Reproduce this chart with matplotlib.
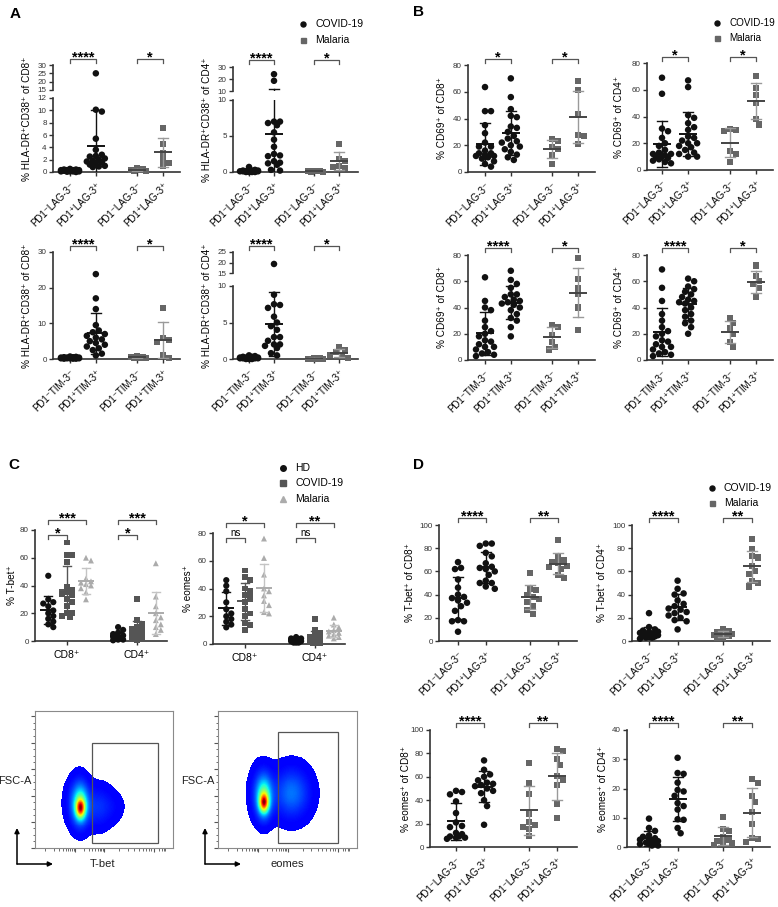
import numpy as np
import matplotlib
matplotlib.use('Agg')
import matplotlib.pyplot as plt
from matplotlib.lines import Line2D
from matplotlib.patches import Rectangle, FancyArrowPatch

# ---------------- data ----------------
# A: % HLA-DR+CD38+
hla_cd8_lag_cov_neg = [0.1, 0.2, 0.3, 0.0, 0.4, 0.2, 0.1, 0.3, 0.5, 0.2, 0.1, 0.05, 0.3, 0.2, 0.4, 0.1, 0.2, 0.3]
hla_cd8_lag_cov_pos = [25, 10.1, 9.8, 5.4, 3.6, 2.8, 2.5, 2.2, 2.0, 1.8, 1.6, 1.5, 1.2, 1.0, 0.9, 2.6, 1.7, 0.8]
hla_cd8_lag_mal_neg = [0.2, 0.4, 0.6, 0.3, 0.5, 0.1]
hla_cd8_lag_mal_pos = [7.2, 4.5, 3.0, 2.0, 1.0, 1.4]
hla_cd4_lag_cov_neg = [0.1, 0.0, 0.2, 0.1, 0.7, 0.1, 0.0, 0.2, 0.1, 0.3, 0.0, 0.1, 0.2, 0.1, 0.0, 0.1, 0.2, 0.1]
hla_cd4_lag_cov_pos = [24, 18.5, 7, 7, 6.8, 6.5, 5.5, 4.5, 3.5, 2.5, 2.3, 2.2, 1.5, 1.3, 1.2, 0.3, 0.2, 1.0]
hla_cd4_lag_mal_neg = [0.1, 0.0, 0.2, 0.1, 0.0, 0.1]
hla_cd4_lag_mal_pos = [3.9, 1.8, 1.5, 0.8, 0.7, 0.5]
hla_cd8_tim_cov_neg = [0.2, 0.4, 0.6, 0.3, 0.1, 0.5, 0.2, 0.3, 0.4, 0.1, 0.2, 0.7, 0.3, 0.2, 0.5, 0.1, 0.4, 0.3]
hla_cd8_tim_cov_pos = [23.8, 17, 14, 9.5, 8, 7.5, 7, 6.5, 6, 5.5, 5, 4.5, 4, 3.5, 3, 2.5, 1.5, 1.0]
hla_cd8_tim_mal_neg = [0.3, 0.5, 0.7, 0.4, 0.6, 0.2]
hla_cd8_tim_mal_pos = [14.3, 5.8, 5.3, 4.8, 1.2, 0.3]
hla_cd4_tim_cov_neg = [0.1, 0.3, 0.5, 0.2, 0.0, 0.1, 0.2, 0.4, 0.1, 0.0, 0.2, 0.1, 0.3, 0.1, 0.0, 0.2, 0.1, 0.1]
hla_cd4_tim_cov_pos = [19.3, 8.8, 7.5, 7.4, 7.0, 5.8, 4.5, 5.0, 4.0, 3.0, 3.0, 2.5, 2.0, 2.0, 1.8, 1.5, 0.8, 0.5]
hla_cd4_tim_mal_neg = [0.0, 0.1, 0.05, 0.1, 0.0, 0.05]
hla_cd4_tim_mal_pos = [1.7, 1.2, 0.9, 0.6, 0.4, 0.2]

# B: % CD69+
cd69_cd8_lag_cov_neg = [63.5, 45.5, 45.5, 35, 29, 22, 19, 16, 14, 14, 13, 12, 12, 11, 10, 8, 6, 4, 19]
cd69_cd8_lag_cov_pos = [70, 56, 47, 42, 41, 34, 33, 30, 27, 25, 23, 22, 20, 19, 17, 15, 13, 11, 9]
cd69_cd8_lag_mal_neg = [25, 23, 19, 17, 13, 6]
cd69_cd8_lag_mal_pos = [68, 61, 43, 28, 27, 21]
cd69_cd4_lag_cov_neg = [69, 57, 31, 29, 24, 20, 18, 15, 13, 12, 12, 11, 10, 10, 9, 8, 7, 6, 5]
cd69_cd4_lag_cov_pos = [67, 62, 41, 39, 35, 32, 30, 25, 24, 22, 20, 20, 18, 17, 15, 13, 12, 10, 10]
cd69_cd4_lag_mal_neg = [31, 30, 29, 14, 12, 6]
cd69_cd4_lag_mal_pos = [70, 61, 56, 50, 38, 34]
cd69_cd8_tim_cov_neg = [63, 45, 40, 38, 30, 25, 22, 20, 18, 15, 14, 12, 10, 10, 8, 6, 5, 4, 3]
cd69_cd8_tim_cov_pos = [68, 61, 58, 55, 50, 48, 46, 45, 44, 43, 42, 40, 38, 35, 32, 30, 25, 18, 50]
cd69_cd8_tim_mal_neg = [27, 25, 19, 14, 10, 8]
cd69_cd8_tim_mal_pos = [78, 62, 55, 50, 40, 23]
cd69_cd4_tim_cov_neg = [69, 55, 45, 35, 30, 25, 22, 20, 18, 15, 14, 12, 10, 10, 8, 6, 5, 4, 3]
cd69_cd4_tim_cov_pos = [62, 60, 56, 54, 52, 50, 48, 46, 45, 43, 40, 38, 35, 33, 30, 28, 25, 20, 44]
cd69_cd4_tim_mal_neg = [32, 28, 24, 20, 14, 10]
cd69_cd4_tim_mal_pos = [72, 64, 60, 58, 55, 48]

# C: % T-bet+ / % eomes+ in HD, COVID-19, Malaria
tbet_cd8_hd = [47, 30, 28, 27, 25, 22, 20, 18, 16, 14, 12, 10]
tbet_cd8_cov = [71, 62, 62, 57, 39, 37, 35, 34, 33, 30, 28, 25, 20, 17, 20, 18]
tbet_cd8_mal = [60, 58, 45, 43, 42, 41, 40, 38, 35, 30]
tbet_cd4_hd = [10, 8, 6, 5, 4, 3, 3, 2, 2, 1, 1, 0.5]
tbet_cd4_cov = [30, 15, 12, 10, 9, 8, 7, 6, 5, 5, 4, 3, 3, 2, 2, 1]
tbet_cd4_mal = [56, 32, 25, 20, 17, 15, 12, 10, 8, 5]
eomes_cd8_hd = [46, 42, 38, 30, 25, 22, 20, 18, 16, 14, 12]
eomes_cd8_cov = [53, 48, 46, 40, 38, 35, 34, 30, 25, 22, 20, 15, 14, 10]
eomes_cd8_mal = [76, 62, 50, 40, 38, 35, 31, 28, 23, 22]
eomes_cd4_hd = [5, 4, 4, 3, 3, 2, 2, 2, 1, 1, 1]
eomes_cd4_cov = [18, 10, 8, 6, 5, 5, 4, 3, 3, 2, 2, 1, 1, 1]
eomes_cd4_mal = [19, 14, 12, 10, 9, 8, 7, 6, 5, 4]

# D: % T-bet+ / % eomes+ by LAG-3
tbet_lag_cd8_cov_neg = [68, 63, 62, 53, 46, 40, 38, 37, 35, 33, 30, 26, 18, 17, 17, 8]
tbet_lag_cd8_cov_pos = [84, 84, 82, 76, 73, 67, 64, 63, 62, 60, 57, 52, 50, 50, 47, 45]
tbet_lag_cd8_mal_neg = [59, 45, 44, 40, 38, 36, 34, 30, 27, 23]
tbet_lag_cd8_mal_pos = [87, 72, 70, 68, 67, 65, 64, 62, 57, 54]
tbet_lag_cd4_cov_neg = [24, 12, 10, 9, 8, 8, 7, 6, 6, 5, 5, 4, 4, 3, 3, 2]
tbet_lag_cd4_cov_pos = [52, 45, 41, 40, 35, 32, 30, 28, 27, 25, 24, 22, 20, 18, 17, 10]
tbet_lag_cd4_mal_neg = [10, 9, 8, 7, 6, 5, 5, 4, 3, 3]
tbet_lag_cd4_mal_pos = [88, 79, 73, 72, 65, 60, 58, 52, 50, 47]
eomes_lag_cd8_cov_neg = [48, 47, 45, 39, 29, 21, 18, 17, 12, 11, 9, 9, 8, 8, 7]
eomes_lag_cd8_cov_pos = [74, 66, 62, 60, 57, 55, 54, 53, 52, 50, 48, 46, 40, 35, 19]
eomes_lag_cd8_mal_neg = [72, 55, 45, 28, 21, 19, 17, 15, 9]
eomes_lag_cd8_mal_pos = [84, 82, 75, 70, 61, 53, 37, 25, 57]
eomes_lag_cd4_cov_neg = [9.7, 6.5, 5.5, 4, 3.5, 3, 2.5, 2.5, 2, 2, 1.5, 1.5, 1, 1, 0.5, 0.5]
eomes_lag_cd4_cov_pos = [30.5, 25.3, 25, 22, 19.5, 19, 17.5, 15, 14, 12.8, 9.5, 9.3, 6.5, 4.7]
eomes_lag_cd4_mal_neg = [10.2, 6.2, 5.5, 3.5, 2.3, 2.0, 1.5, 1.2, 0.8]
eomes_lag_cd4_mal_pos = [23.3, 22, 17.5, 15.5, 12, 8, 3, 2.7, 1.8]

LAG_LABELS = ['PD1⁻LAG-3⁻', 'PD1⁺LAG-3⁺', 'PD1⁻LAG-3⁻', 'PD1⁺LAG-3⁺']
TIM_LABELS = ['PD1⁻TIM-3⁻', 'PD1⁺TIM-3⁺', 'PD1⁻TIM-3⁻', 'PD1⁺TIM-3⁺']
CAT_POS = [0, 1, 2.6, 3.6]

# flow cytometry illustration: density components (x, y, sx, sy, weight) and gates
tbet_pops = [(0.33, 0.29, 0.022, 0.045, 0.8), (0.33, 0.32, 0.035, 0.09, 0.45),
             (0.31, 0.33, 0.05, 0.10, 0.15), (0.45, 0.30, 0.07, 0.09, 0.10),
             (0.56, 0.30, 0.06, 0.07, 0.02)]
eomes_pops = [(0.33, 0.33, 0.022, 0.045, 0.8), (0.33, 0.37, 0.035, 0.09, 0.45),
              (0.32, 0.40, 0.05, 0.11, 0.15), (0.53, 0.40, 0.08, 0.11, 0.2)]
tbet_gate = (0.41, 0.04, 0.89, 0.77)
eomes_gate = (0.43, 0.04, 0.86, 0.85)

# ---------------- style ----------------
plt.rcParams['font.family'] = ['Liberation Sans', 'DejaVu Sans']
COV_C = '#111111'
MAL_C = '#666666'
MAL_ERR = '#9a9a9a'
C_HD = '#111111'
C_COV = '#555555'
C_MAL = '#ababab'
SPINE = '#333333'

W, H = 778, 907
fig = plt.figure(figsize=(W / 100, H / 100), dpi=100)


def fx(x):
    return x / W


def fy(y):
    return 1 - y / H


def box(x0, y0, x1, y1):
    return [x0 / W, 1 - y1 / H, (x1 - x0) / W, (y1 - y0) / H]


def style(ax, bottom=True):
    for s in ['top', 'right']:
        ax.spines[s].set_visible(False)
    ax.spines['left'].set_color(SPINE)
    ax.spines['left'].set_linewidth(1.2)
    if bottom:
        ax.spines['bottom'].set_color(SPINE)
        ax.spines['bottom'].set_linewidth(1.2)
    else:
        ax.spines['bottom'].set_visible(False)
        ax.tick_params(axis='x', bottom=False, labelbottom=False)
    ax.tick_params(axis='y', labelsize=5.8, colors=SPINE, length=3, width=1, pad=1.5)
    ax.tick_params(axis='x', length=3, width=1, colors=SPINE, labelcolor='black')
    ax.patch.set_alpha(0)


def make_panel(x0, x1, xlim, segments, labels=None, ylabel=None, ylabel_x=None):
    axes = []
    for i, (ylim, yticks, top, bot) in enumerate(segments):
        ax = fig.add_axes(box(x0, top, x1, bot))
        ax.set_xlim(*xlim)
        ax.set_ylim(*ylim)
        ax.set_yticks(yticks)
        last = i == len(segments) - 1
        style(ax, bottom=last)
        if last and labels is not None:
            ax.set_xticks(CAT_POS)
            ax.set_xticklabels(labels, rotation=45, ha='right', va='top',
                               rotation_mode='anchor', fontsize=7)
        axes.append(ax)
    if ylabel:
        yc = (segments[0][2] + segments[-1][3]) / 2
        fig.text(fx(ylabel_x), fy(yc), ylabel, rotation=90, ha='center',
                 va='center', fontsize=7.2)
    return axes


def xlim_from(x0, x1, c0, c3):
    u = (c3 - c0) / CAT_POS[-1]
    return (-(c0 - x0) / u, (x1 - c0) / u)


def swarm_x(ax, xc, vals, d, maxw):
    pts = ax.transData.transform(np.column_stack([np.full(len(vals), xc), vals]))
    ypx = pts[:, 1]
    x0 = pts[0, 0]
    cands = [0.0]
    k = 1
    while k * d / 2 <= maxw + 1e-6:
        cands += [k * d / 2, -k * d / 2]
        k += 1
    offs = np.zeros(len(vals))
    placed = []
    for i in np.argsort(-ypx, kind='stable'):
        best, best_score = 0.0, -1.0
        for c in cands:
            dist = min((np.hypot(c - px, ypx[i] - py) for px, py in placed), default=np.inf)
            if dist >= d:
                best = c
                break
            if dist > best_score:
                best, best_score = c, dist
        offs[i] = best
        placed.append((best, ypx[i]))
    return ax.transData.inverted().transform(np.column_stack([x0 + offs, ypx]))[:, 0]


def plot_group(axes, xc, vals, marker, color, mean_c, err_c, s=22, d=6.0,
               maxw=11, hw_px=9, cap_px=5):
    vals = np.asarray(vals, float)
    ref = axes[-1]
    px0 = ref.transData.transform((xc, 0))[0]
    inv = ref.transData.inverted()
    hw = inv.transform((px0 + hw_px, 0))[0] - xc
    cap = inv.transform((px0 + cap_px, 0))[0] - xc
    for ax in axes:
        lo, hi = ax.get_ylim()
        sel = vals[(vals >= lo) & (vals <= hi)]
        if len(sel) == 0:
            continue
        xs = swarm_x(ax, xc, sel, d, maxw)
        ax.scatter(xs, sel, s=s, marker=marker, color=color, edgecolors='none',
                   zorder=3, clip_on=False)
    m = vals.mean()
    sd = vals.std(ddof=1)
    for ax in axes:
        ax.plot([xc, xc], [m - sd, m + sd], color=err_c, lw=1.0, zorder=4)
        for v in (m - sd, m + sd):
            ax.plot([xc - cap, xc + cap], [v, v], color=err_c, lw=1.0, zorder=4)
        ax.plot([xc - hw, xc + hw], [m, m], color=mean_c, lw=1.4, zorder=5,
                solid_capstyle='butt')


def bracket(ax, x0, x1, dy_px, text, stars=True, tick_px=3.5):
    h = ax.bbox.height
    y = 1 + dy_px / h
    t = ax.get_xaxis_transform()
    ax.plot([x0, x0, x1, x1], [y - tick_px / h, y, y, y - tick_px / h],
            transform=t, color='#555555', lw=0.9, clip_on=False)
    if stars:
        ax.text((x0 + x1) / 2, y - 2.5 / h, text, transform=t, ha='center',
                va='baseline', fontsize=10.5, fontweight='bold', clip_on=False)
    else:
        ax.text((x0 + x1) / 2, y + 2.5 / h, text, transform=t, ha='center',
                va='baseline', fontsize=7, clip_on=False)


def lag_panel(x0, x1, c0, c3, segments, labels, ylabel, ylabel_x, groups, sigs, dy):
    axes = make_panel(x0, x1, xlim_from(x0, x1, c0, c3), segments, labels, ylabel, ylabel_x)
    for pos, vals in zip(CAT_POS[:2], groups[:2]):
        plot_group(axes, pos, vals, 'o', COV_C, COV_C, COV_C)
    for pos, vals in zip(CAT_POS[2:], groups[2:]):
        plot_group(axes, pos, vals, 's', MAL_C, '#444444', MAL_ERR, s=19)
    bracket(axes[0], CAT_POS[0], CAT_POS[1], dy, sigs[0])
    bracket(axes[0], CAT_POS[2], CAT_POS[3], dy, sigs[1])
    return axes


def legend(xm, xt, ys, markers, colors, labels, ms=3.6, fs=7.5):
    for y, mk, c, lab in zip(ys, markers, colors, labels):
        fig.add_artist(Line2D([fx(xm)], [fy(y)], marker=mk, color=c, ms=ms, ls='none',
                              transform=fig.transFigure))
        fig.text(fx(xt), fy(y), lab, va='center', ha='left', fontsize=fs)


# ---------------- panel A ----------------
lag_panel(53, 180, 70, 163,
          [((15, 30), [15, 20, 25, 30], 65, 90), ((0, 12), [0, 2, 4, 6, 8, 10, 12], 98, 172)],
          LAG_LABELS, '% HLA-DR⁺CD38⁺ of CD8⁺', 27,
          [hla_cd8_lag_cov_neg, hla_cd8_lag_cov_pos, hla_cd8_lag_mal_neg, hla_cd8_lag_mal_pos],
          ['****', '*'], 6)
lag_panel(233, 358, 249, 339,
          [((10, 30), [10, 20, 30], 67, 91), ((0, 10), [0, 5, 10], 100, 172)],
          LAG_LABELS, '% HLA-DR⁺CD38⁺ of CD4⁺', 207,
          [hla_cd4_lag_cov_neg, hla_cd4_lag_cov_pos, hla_cd4_lag_mal_neg, hla_cd4_lag_mal_pos],
          ['****', '*'], 7)
lag_panel(53, 180, 70, 163,
          [((0, 30), [0, 10, 20, 30], 252, 359)],
          TIM_LABELS, '% HLA-DR⁺CD38⁺ of CD8⁺', 27,
          [hla_cd8_tim_cov_neg, hla_cd8_tim_cov_pos, hla_cd8_tim_mal_neg, hla_cd8_tim_mal_pos],
          ['****', '*'], 6)
lag_panel(233, 358, 249, 339,
          [((15, 25), [15, 20, 25], 252, 273), ((0, 10), [0, 5, 10], 286, 359)],
          TIM_LABELS, '% HLA-DR⁺CD38⁺ of CD4⁺', 207,
          [hla_cd4_tim_cov_neg, hla_cd4_tim_cov_pos, hla_cd4_tim_mal_neg, hla_cd4_tim_mal_pos],
          ['****', '*'], 6)
legend(303, 315, [24, 40], ['o', 's'], [COV_C, MAL_C], ['COVID-19', 'Malaria'])

# ---------------- panel B ----------------
lag_panel(468, 595, 485, 578, [((0, 80), [0, 20, 40, 60, 80], 65, 172)],
          LAG_LABELS, '% CD69⁺ of CD8⁺', 442,
          [cd69_cd8_lag_cov_neg, cd69_cd8_lag_cov_pos, cd69_cd8_lag_mal_neg, cd69_cd8_lag_mal_pos],
          ['*', '*'], 6)
lag_panel(647, 773, 662, 756, [((0, 80), [0, 20, 40, 60, 80], 63, 170)],
          LAG_LABELS, '% CD69⁺ of CD4⁺', 619,
          [cd69_cd4_lag_cov_neg, cd69_cd4_lag_cov_pos, cd69_cd4_lag_mal_neg, cd69_cd4_lag_mal_pos],
          ['*', '*'], 6)
lag_panel(468, 595, 485, 578, [((0, 80), [0, 20, 40, 60, 80], 255, 360)],
          TIM_LABELS, '% CD69⁺ of CD8⁺', 442,
          [cd69_cd8_tim_cov_neg, cd69_cd8_tim_cov_pos, cd69_cd8_tim_mal_neg, cd69_cd8_tim_mal_pos],
          ['****', '*'], 7)
lag_panel(647, 773, 662, 756, [((0, 80), [0, 20, 40, 60, 80], 255, 360)],
          TIM_LABELS, '% CD69⁺ of CD4⁺', 619,
          [cd69_cd4_tim_cov_neg, cd69_cd4_tim_cov_pos, cd69_cd4_tim_mal_neg, cd69_cd4_tim_mal_pos],
          ['****', '*'], 7)
legend(717, 729, [23, 38], ['o', 's'], [COV_C, MAL_C], ['COVID-19', 'Malaria'], fs=7.1)

# ---------------- panel C ----------------
C_OFF = [-0.27, 0, 0.27]


def c_panel(x0, x1, top, bot, ylabel, ylabel_x, cd8, cd4, sigs):
    ax = fig.add_axes(box(x0, top, x1, bot))
    ax.set_xlim(-0.46, 1.43)
    ax.set_ylim(0, 80)
    ax.set_yticks([0, 20, 40, 60, 80])
    style(ax)
    ax.set_xticks([0, 1])
    ax.set_xticklabels(['CD8⁺', 'CD4⁺'], fontsize=7.5)
    spec = [('o', C_HD, C_HD, 20), ('s', C_COV, C_COV, 18), ('^', C_MAL, '#c4c4c4', 18)]
    for base, groups in zip([0, 1], [cd8, cd4]):
        for off, vals, (mk, c, ec, s) in zip(C_OFF, groups, spec):
            plot_group([ax], base + off, vals, mk, c, c, ec, s=s, d=5.0, maxw=7,
                       hw_px=8, cap_px=4)
    fig.text(fx(ylabel_x), fy((top + bot) / 2), ylabel, rotation=90, ha='center',
             va='center', fontsize=7.2)
    for base, (outer, inner) in zip([0, 1], sigs):
        bracket(ax, base + C_OFF[0], base + C_OFF[2], 10, outer, stars=outer != 'ns')
        bracket(ax, base + C_OFF[0], base + C_OFF[1], -5, inner, stars=inner != 'ns')
    return ax


c_panel(35, 167, 530, 641, '% T-bet⁺', 12,
        [tbet_cd8_hd, tbet_cd8_cov, tbet_cd8_mal], [tbet_cd4_hd, tbet_cd4_cov, tbet_cd4_mal],
        [('***', '*'), ('***', '*')])
c_panel(213, 345, 533, 644, '% eomes⁺', 188,
        [eomes_cd8_hd, eomes_cd8_cov, eomes_cd8_mal], [eomes_cd4_hd, eomes_cd4_cov, eomes_cd4_mal],
        [('*', 'ns'), ('**', 'ns')])
legend(283, 295, [468, 483, 499], ['o', 's', '^'], [C_HD, C_COV, C_MAL],
       ['HD', 'COVID-19', 'Malaria'], ms=4)


# flow cytometry dot plots
def flow(x0, y0, x1, y1, pops, gate, xlabel, xlab_x, fsc_x, arrow_x, arrow_len):
    ax = fig.add_axes(box(x0, y0, x1, y1))
    g = np.linspace(0, 1, 280)
    X, Y = np.meshgrid(g, g)
    dens = np.zeros_like(X)
    for cx, cy, sx, sy, w in pops:
        dens += w * np.exp(-((X - cx) ** 2 / (2 * sx ** 2) + (Y - cy) ** 2 / (2 * sy ** 2)))
    dens /= dens.max()
    z = np.ma.masked_less(dens, 0.006)
    cmap = plt.get_cmap('jet').copy()
    cmap.set_bad('white')
    ax.imshow(z, origin='lower', extent=[0, 1, 0, 1], cmap=cmap, vmin=-0.12, vmax=1,
              interpolation='nearest', aspect='auto')
    gx0, gy0, gx1, gy1 = gate
    ax.add_patch(Rectangle((gx0, gy0), gx1 - gx0, gy1 - gy0, fill=False,
                           ec='#555555', lw=0.9))
    ax.set_xlim(0, 1)
    ax.set_ylim(0, 1)
    for sp in ax.spines.values():
        sp.set_color('#8a8a8a')
        sp.set_linewidth(0.8)
    ymaj = [0, 0.19, 0.38, 0.58, 0.77, 0.96]
    ax.set_yticks(ymaj)
    ax.set_yticks([a + (b - a) * f for a, b in zip(ymaj[:-1], ymaj[1:])
                   for f in (0.25, 0.5, 0.75)], minor=True)
    xmin = [0.07 + np.log10(k) * 0.22 for k in range(1, 10)]
    xmin += [0.29 + np.log10(k) * 0.21 for k in range(2, 10)]
    xmin += [0.50 + np.log10(k) * 0.36 for k in range(2, 10)]
    xmin += [0.86 + np.log10(k) * 0.12 for k in range(2, 6)]
    ax.set_xticks([0.29, 0.50, 0.86])
    ax.set_xticks(xmin, minor=True)
    ax.tick_params(which='major', length=3, width=0.8, colors='#555555',
                   labelleft=False, labelbottom=False)
    ax.tick_params(which='minor', length=1.8, width=0.6, colors='#555555')
    fig.text(fx(fsc_x), fy((y0 + y1) / 2 + 2), 'FSC-A', ha='center', va='center',
             fontsize=8, color='#222222')
    fig.text(fx(xlab_x), fy(864), xlabel, ha='center', va='center', fontsize=8,
             color='#222222')
    for end in [(arrow_x, 828), (arrow_x + arrow_len, 864)]:
        fig.add_artist(FancyArrowPatch((fx(arrow_x), fy(864)), (fx(end[0]), fy(end[1])),
                                       transform=fig.transFigure, arrowstyle='-|>',
                                       mutation_scale=7, lw=1.1, color='black',
                                       shrinkA=0, shrinkB=0))


flow(35, 711, 173, 848, tbet_pops, tbet_gate, 'T-bet', 102, 15, 17, 36)
flow(218, 711, 357, 848, eomes_pops, eomes_gate, 'eomes', 287, 198, 205, 36)

# ---------------- panel D ----------------
lag_panel(439, 577, 458, 558, [((0, 100), [0, 20, 40, 60, 80, 100], 525, 641)],
          LAG_LABELS, '% T-bet⁺ of CD8⁺', 410,
          [tbet_lag_cd8_cov_neg, tbet_lag_cd8_cov_pos, tbet_lag_cd8_mal_neg, tbet_lag_cd8_mal_pos],
          ['****', '**'], 7)
lag_panel(632, 770, 649, 752, [((0, 100), [0, 20, 40, 60, 80, 100], 525, 641)],
          LAG_LABELS, '% T-bet⁺ of CD4⁺', 602,
          [tbet_lag_cd4_cov_neg, tbet_lag_cd4_cov_pos, tbet_lag_cd4_mal_neg, tbet_lag_cd4_mal_pos],
          ['****', '**'], 7)
lag_panel(430, 577, 456, 557, [((0, 100), [0, 20, 40, 60, 80, 100], 730, 847)],
          LAG_LABELS, '% eomes⁺ of CD8⁺', 406,
          [eomes_lag_cd8_cov_neg, eomes_lag_cd8_cov_pos, eomes_lag_cd8_mal_neg, eomes_lag_cd8_mal_pos],
          ['****', '**'], 7)
lag_panel(627, 770, 649, 752, [((0, 40), [0, 10, 20, 30, 40], 730, 847)],
          LAG_LABELS, '% eomes⁺ of CD4⁺', 603,
          [eomes_lag_cd4_cov_neg, eomes_lag_cd4_cov_pos, eomes_lag_cd4_mal_neg, eomes_lag_cd4_mal_pos],
          ['****', '**'], 7)
legend(712, 724, [488, 503], ['o', 's'], [COV_C, MAL_C], ['COVID-19', 'Malaria'])

# panel letters
for letter, x, y in [('A', 10, 14), ('B', 413, 12), ('C', 8, 465), ('D', 413, 465)]:
    fig.text(fx(x), fy(y), letter, fontsize=11, fontweight='bold', ha='left', va='center')

fig.savefig('out.png', dpi=100)
